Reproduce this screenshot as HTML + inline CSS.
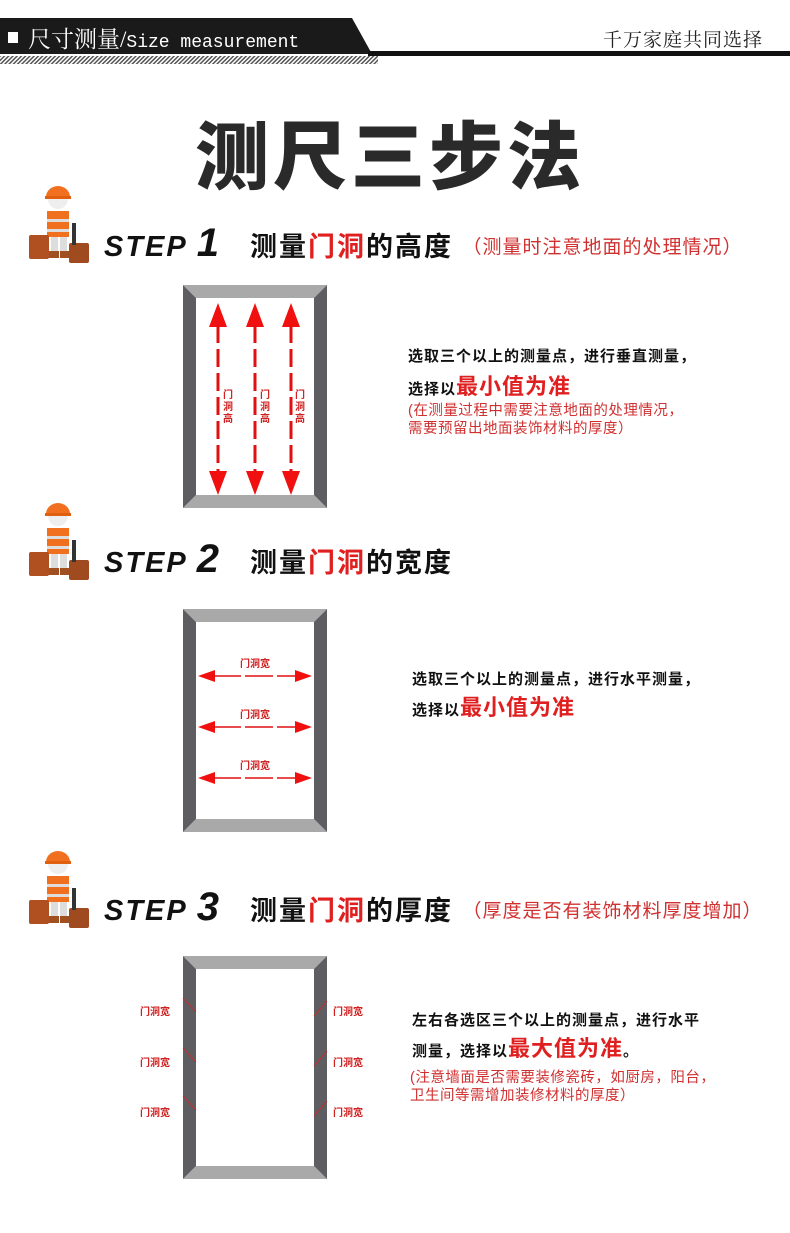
<!DOCTYPE html>
<html><head><meta charset="utf-8"><style>
body{margin:0;width:790px;height:1233px;background:#fff;position:relative;overflow:hidden;font-family:"Liberation Sans","Noto Sans CJK SC",sans-serif}
.a{position:absolute;white-space:nowrap}
.step{font-style:italic;font-weight:900;font-size:29px;letter-spacing:2px;color:#111;font-family:"Liberation Sans",sans-serif}
.num{font-size:40px}
.t{font-weight:bold;font-size:27px;letter-spacing:2px;color:#111}
.r{color:#e02020}
.n{font-weight:normal;font-size:19px;letter-spacing:1px;color:#d03030;vertical-align:3px}
.s{font-size:15px;font-weight:bold;color:#111;letter-spacing:1px}
.big{font-size:22px;color:#e02020;font-weight:bold}
.sm{font-size:14.5px;color:#d03030;line-height:18px;letter-spacing:.5px}
</style></head><body>
<svg class="a" style="left:0;top:0" width="790" height="70">
<defs><pattern id="h" width="3" height="3" patternUnits="userSpaceOnUse" patternTransform="rotate(45)"><rect width="1.5" height="3" fill="#555"/></pattern></defs>
<polygon points="0,18 352,18 372,54 0,54" fill="#1a1a1a"/>
<rect x="0" y="56" width="378" height="8" fill="url(#h)"/>
<rect x="368" y="51" width="422" height="5" fill="#111"/>
<rect x="8" y="32" width="10" height="11" fill="#fff"/>
<text x="28" y="47" font-family="Liberation Serif,Noto Serif CJK SC,serif" font-size="23" fill="#fff">尺寸测量/<tspan font-family="Liberation Mono,monospace" font-size="18">Size measurement</tspan></text>
<text x="603" y="46" font-family="Liberation Serif,Noto Serif CJK SC,serif" font-size="19" fill="#222" letter-spacing="1">千万家庭共同选择</text>
</svg>
<div class="a" style="left:195px;top:98px;font-size:74px;font-weight:900;color:#2a2a2a;letter-spacing:4px">测尺三步法</div>

<svg class="a" style="left:25px;top:183px" width="70" height="82"><g id="w">
<circle cx="33" cy="16" r="10" fill="#eee"/><path d="M21,14 a12,11 0 0 1 24,0 z" fill="#f07020"/><rect x="20" y="13" width="26" height="3" fill="#e06010"/>
<path d="M22,28 h22 v26 h-22z" fill="#f07020"/><rect x="22" y="36" width="22" height="3" fill="#ddd"/><rect x="22" y="46" width="22" height="3" fill="#ddd"/>
<rect x="26" y="54" width="7" height="16" fill="#ddd"/><rect x="35" y="54" width="7" height="16" fill="#ddd"/>
<rect x="23" y="68" width="11" height="7" fill="#a05020"/><rect x="35" y="68" width="11" height="7" fill="#a05020"/>
<rect x="4" y="52" width="20" height="24" rx="2" fill="#b05020"/><rect x="44" y="60" width="20" height="20" rx="2" fill="#a04a20"/>
<rect x="47" y="40" width="4" height="22" fill="#333"/></g></svg>
<svg class="a" style="left:25px;top:500px" width="70" height="82"><use href="#w"/></svg>
<svg class="a" style="left:25px;top:848px" width="70" height="82"><use href="#w"/></svg>

<div class="a step" style="left:104px;top:221px">STEP <span class="num">1</span></div>
<div class="a t" style="left:250px;top:225px">测量<span class="r">门洞</span>的高度 <span class="n">（测量时注意地面的处理情况）</span></div>
<div class="a step" style="left:104px;top:537px">STEP <span class="num">2</span></div>
<div class="a t" style="left:250px;top:541px">测量<span class="r">门洞</span>的宽度</div>
<div class="a step" style="left:104px;top:885px">STEP <span class="num">3</span></div>
<div class="a t" style="left:250px;top:889px">测量<span class="r">门洞</span>的厚度 <span class="n">（厚度是否有装饰材料厚度增加）</span></div>

<svg class="a" style="left:0;top:0" width="790" height="1233">
<defs><g id="f">
<polygon points="0,0 144,0 131,13 13,13" fill="#a9a9a9"/>
<polygon points="0,223 144,223 131,210 13,210" fill="#a9a9a9"/>
<polygon points="0,0 13,13 13,210 0,223" fill="#5e5d61"/>
<polygon points="144,0 131,13 131,210 144,223" fill="#5e5d61"/>
</g>
<g id="va"><polygon points="0,18 -9,42 9,42" fill="#f01010"/><line x1="0" y1="40" x2="0" y2="190" stroke="#e01010" stroke-width="3" stroke-dasharray="18,6"/><polygon points="0,210 -9,186 9,186" fill="#f01010"/></g>
<g id="ha"><polygon points="15,0 32,-6 32,6" fill="#f01010"/><line x1="30" y1="0" x2="114" y2="0" stroke="#e01010" stroke-width="1.5" stroke-dasharray="28,4"/><polygon points="129,0 112,-6 112,6" fill="#f01010"/></g>
</defs>
<use href="#f" x="183" y="285"/><use href="#f" x="183" y="609"/><use href="#f" x="183" y="956"/>
<use href="#va" x="218" y="285"/><use href="#va" x="255" y="285"/><use href="#va" x="291" y="285"/>
<g font-size="10" font-weight="bold" fill="#d02020" text-anchor="middle">
<text x="228" y="398">门</text><text x="228" y="410">洞</text><text x="228" y="422">高</text>
<text x="265" y="398">门</text><text x="265" y="410">洞</text><text x="265" y="422">高</text>
<text x="300" y="398">门</text><text x="300" y="410">洞</text><text x="300" y="422">高</text>
<text x="255" y="667">门洞宽</text><text x="255" y="718">门洞宽</text><text x="255" y="769">门洞宽</text>
</g>
<use href="#ha" x="183" y="676"/><use href="#ha" x="183" y="727"/><use href="#ha" x="183" y="778"/>
<g font-size="10" font-weight="bold" fill="#d02020">
<text x="140" y="1015">门洞宽</text><text x="140" y="1066">门洞宽</text><text x="140" y="1116">门洞宽</text>
<text x="333" y="1015">门洞宽</text><text x="333" y="1066">门洞宽</text><text x="333" y="1116">门洞宽</text>
</g>
<g stroke="#c03030" stroke-width="1">
<line x1="183" y1="998" x2="196" y2="1012"/><line x1="183" y1="1048" x2="196" y2="1062"/><line x1="183" y1="1096" x2="196" y2="1110"/>
<line x1="327" y1="1001" x2="314" y2="1016"/><line x1="327" y1="1051" x2="314" y2="1066"/><line x1="327" y1="1101" x2="314" y2="1116"/>
</g>
</svg>

<div class="a s" style="left:408px;top:345px">选取三个以上的测量点，进行垂直测量，</div>
<div class="a s" style="left:408px;top:369px">选择以<span class="big">最小值为准</span></div>
<div class="a sm" style="left:408px;top:402px">(在测量过程中需要注意地面的处理情况，<br>需要预留出地面装饰材料的厚度）</div>

<div class="a s" style="left:412px;top:668px">选取三个以上的测量点，进行水平测量，</div>
<div class="a s" style="left:412px;top:690px">选择以<span class="big">最小值为准</span></div>

<div class="a s" style="left:412px;top:1009px">左右各选区三个以上的测量点，进行水平</div>
<div class="a s" style="left:412px;top:1031px">测量，选择以<span class="big">最大值为准</span>。</div>
<div class="a sm" style="left:410px;top:1069px">(注意墙面是否需要装修瓷砖，如厨房，阳台，<br>卫生间等需增加装修材料的厚度）</div>
</body></html>
